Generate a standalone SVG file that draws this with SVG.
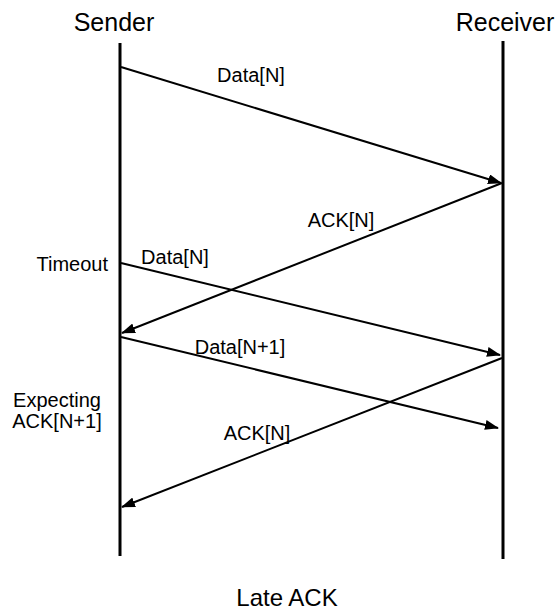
<svg xmlns="http://www.w3.org/2000/svg" width="560" height="610" viewBox="0 0 560 610">
<style>
.t{font-family:"Liberation Sans",Arial,sans-serif;fill:#000}
.h{font-size:25px;text-anchor:middle}
.l{font-size:20px}
.life{stroke:#000;stroke-width:3;fill:none}
.msg{stroke:#000;stroke-width:2;fill:none;marker-end:url(#ah)}
</style>
<defs>
<marker id="ah" viewBox="0 0 14 10" refX="13" refY="5" markerWidth="14" markerHeight="10" markerUnits="userSpaceOnUse" orient="auto">
<path d="M0,0 L14,5 L0,10 Z" fill="#000"/>
</marker>
</defs>
<g id="sender">
<text class="t h" x="114" y="31">Sender</text>
<line class="life" x1="120" y1="43" x2="120" y2="556"/>
</g>
<g id="receiver">
<text class="t h" x="505" y="31">Receiver</text>
<line class="life" x1="503" y1="41" x2="503" y2="559"/>
</g>
<g id="connectors">
<line class="msg" x1="121" y1="67" x2="501" y2="183"/>
<line class="msg" x1="502" y1="183" x2="122" y2="333"/>
<line class="msg" x1="121" y1="263" x2="500" y2="355"/>
<line class="msg" x1="121" y1="337" x2="498" y2="428"/>
<line class="msg" x1="502" y1="358" x2="122" y2="507"/>
</g>
<g id="labels">
<text class="t l" x="251" y="82" text-anchor="middle">Data[N]</text>
<text class="t l" x="341" y="227" text-anchor="middle">ACK[N]</text>
<text class="t l" x="108" y="271" text-anchor="end">Timeout</text>
<text class="t l" x="175" y="264" text-anchor="middle">Data[N]</text>
<text class="t l" x="240" y="354" text-anchor="middle">Data[N+1]</text>
<text class="t l" x="57" y="407" text-anchor="middle">Expecting</text>
<text class="t l" x="57" y="428" text-anchor="middle">ACK[N+1]</text>
<text class="t l" x="257" y="440" text-anchor="middle">ACK[N]</text>
<text class="t" style="font-size:24px" x="287" y="606" text-anchor="middle">Late ACK</text>
</g>
</svg>
